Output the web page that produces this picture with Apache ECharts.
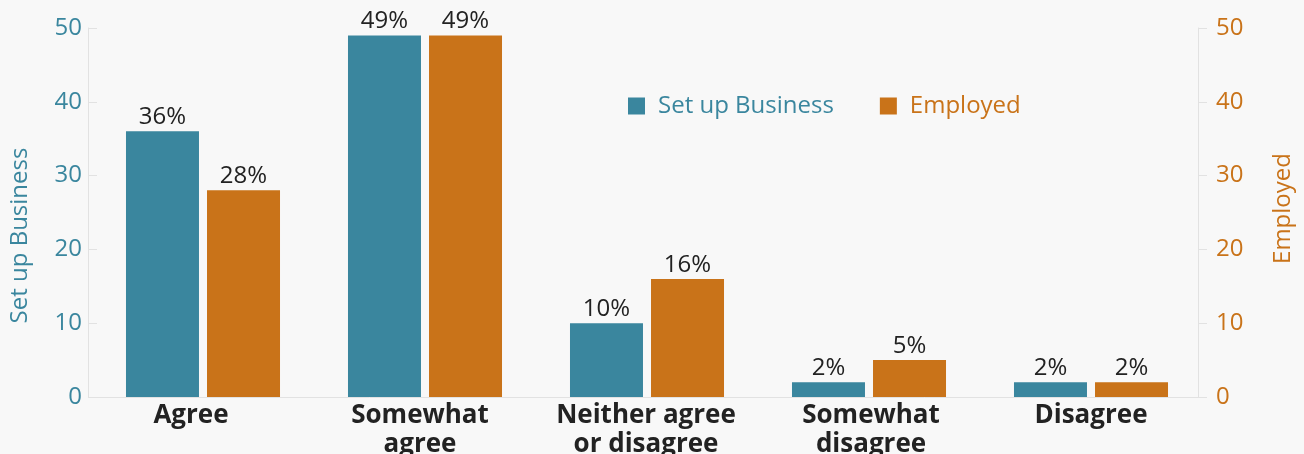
<!DOCTYPE html>
<html><head><meta charset="utf-8">
<script src="https://cdn.jsdelivr.net/npm/echarts@6/dist/echarts.min.js"></script>
<style>html,body{margin:0;padding:0;background:#f8f8f8;}#c{width:1304px;height:454px;}</style>
</head><body><div id="c"></div>
<script>
const categories = ['Agree', 'Somewhat\nagree', 'Neither agree\nor disagree', 'Somewhat\ndisagree', 'Disagree'];
const setUpBusiness = [36, 49, 10, 2, 2];
const employed = [28, 49, 16, 5, 2];
const seriesNames = ['Set up Business', 'Employed'];
const colors = ['#3a869e', '#c97319'];
const FONT = '"Open Sans", sans-serif';

// small horizontal nudges of category labels (px, negative = left), as in the reference
const labelNudge = [-12, -5, -1, 2, 0];
const catData = categories.map((c, i) => {
  const n = labelNudge[i];
  return {value: c, textStyle: {padding: n < 0 ? [0, -2 * n, 0, 0] : [0, 0, 0, 2 * n]}};
});

const chart = echarts.init(document.getElementById('c'), null, {renderer: 'canvas'});
const labelCfg = {show: true, position: 'top', formatter: '{c}%', color: '#222', fontSize: 24, fontFamily: FONT, distance: 2};
chart.setOption({
  backgroundColor: '#f8f8f8',
  animation: false,
  grid: {left: 92, right: 102, top: 28, bottom: 57, outerBoundsMode: 'none', containLabel: false},
  legend: {
    data: seriesNames.map((n, i) => ({name: n, textStyle: {color: colors[i]}})),
    left: 623, top: 89, itemWidth: 17, itemHeight: 17, itemGap: 46,
    icon: 'rect',
    textStyle: {fontSize: 24, fontFamily: FONT, padding: [0, 0, 0, 8]}
  },
  xAxis: {
    type: 'category', data: catData,
    axisLine: {lineStyle: {color: '#e2e2e2'}},
    axisTick: {show: false},
    axisLabel: {fontSize: 26, fontWeight: 'bold', fontFamily: FONT, color: '#222', lineHeight: 29, margin: 4, interval: 0}
  },
  yAxis: [
    {type: 'value', min: 0, max: 50, interval: 10, position: 'left', offset: 4,
     name: seriesNames[0], nameLocation: 'middle', nameGap: 56,
     nameTextStyle: {color: colors[0], fontSize: 24, fontFamily: FONT, padding: [0, 0, 0, -46]},
     axisLine: {show: true, lineStyle: {color: '#e2e2e2'}},
     axisTick: {show: true, inside: true, length: 9, lineStyle: {color: '#e2e2e2'}},
     splitLine: {show: false},
     axisLabel: {color: colors[0], fontSize: 24, fontFamily: FONT, margin: 6}},
    {type: 'value', min: 0, max: 50, interval: 10, position: 'right', offset: -4,
     name: seriesNames[1], nameLocation: 'middle', nameGap: 73,
     nameTextStyle: {color: colors[1], fontSize: 24, fontFamily: FONT, padding: [0, 0, 0, 8]},
     axisLine: {show: true, lineStyle: {color: '#e2e2e2'}},
     axisTick: {show: true, inside: false, length: 9, lineStyle: {color: '#e2e2e2'}},
     splitLine: {show: false},
     axisLabel: {color: colors[1], fontSize: 24, fontFamily: FONT, margin: 18}}
  ],
  series: [
    {name: seriesNames[0], type: 'bar', data: setUpBusiness, yAxisIndex: 0, barWidth: 73, barGap: '11%',
     itemStyle: {color: colors[0]}, label: labelCfg},
    {name: seriesNames[1], type: 'bar', data: employed, yAxisIndex: 1, barWidth: 73,
     itemStyle: {color: colors[1]}, label: labelCfg}
  ]
});
</script></body></html>
